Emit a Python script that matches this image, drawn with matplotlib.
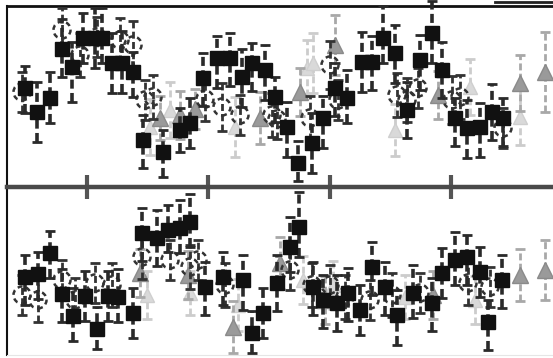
import matplotlib
matplotlib.use("Agg")
import matplotlib.pyplot as plt
import numpy as np
from matplotlib.lines import Line2D

# ---------------- data ----------------
# Top panel: black squares
top_sq_x = [25, 37, 50, 62, 72, 83, 95, 102, 112, 122, 133, 143, 163, 180, 190,
            203, 217, 230, 242, 252, 265, 275, 287, 298, 312, 323, 335, 347, 362, 372,
            383, 395, 407, 420, 432, 442, 455, 467, 480, 492, 503]
top_sq_y = [99, 75, 89, 138, 120, 149, 149, 149, 124, 124, 115, 47, 35, 57, 64,
            109, 129, 129, 110, 124, 117, 90, 60, 24, 44, 69, 99, 89, 125, 125,
            149, 134, 77, 127, 154, 117, 69, 59, 60, 75, 69]
top_sq_up = [22, 30, 26, 30, 25, 25, 30, 30, 30, 32, 20, 25, 22, 22, 25,
             25, 22, 25, 28, 20, 25, 20, 25, 22, 30, 22, 25, 28, 30, 26,
             32, 28, 28, 25, 32, 28, 20, 28, 24, 28, 20]
top_sq_dn = [25, 30, 25, 28, 35, 25, 30, 25, 30, 30, 25, 28, 25, 22, 25,
             28, 30, 28, 30, 28, 30, 25, 30, 18, 30, 30, 28, 25, 30, 28,
             25, 30, 28, 30, 30, 28, 28, 30, 30, 28, 28]

# Top panel: open (dashed) circles
top_ci_x = [22, 62, 80, 97, 120, 133, 145, 153, 205, 222, 240, 272, 277, 310,
            330, 338, 397, 407, 418, 452, 460, 503]
top_ci_y = [95, 157, 132, 150, 147, 142, 87, 90, 88, 80, 72, 72, 68, 69,
            122, 87, 92, 87, 99, 87, 90, 59]
top_ci_err = [20, 22, 22, 20, 22, 24, 20, 22, 22, 24, 20, 22, 20, 22,
              24, 20, 22, 22, 20, 24, 22, 20]

# Top panel: grey triangles
top_tr_x = [160, 180, 195, 260, 300, 335, 438, 520, 545]
top_tr_y = [69, 72, 78, 69, 95, 142, 92, 104, 115]
top_tr_err = [22, 24, 20, 26, 24, 30, 24, 28, 40]

# Top panel: light grey triangles
top_lt_x = [170, 150, 235, 307, 313, 395, 470, 520]
top_lt_y = [77, 60, 60, 119, 124, 57, 100, 70]
top_lt_err = [28, 28, 30, 28, 30, 26, 28, 28]

# Bottom panel: black squares
bot_sq_x = [25, 38, 50, 62, 73, 85, 97, 108, 118, 133, 142, 157, 168, 180, 190,
            205, 223, 243, 252, 263, 277, 290, 299, 313, 323, 337, 348, 360, 372,
            385, 397, 413, 432, 442, 455, 467, 480, 488, 502]
bot_sq_y = [78, 81, 102, 61, 39, 59, 26, 59, 58, 42, 122, 117, 125, 127, 133,
            68, 78, 75, 22, 42, 72, 108, 128, 68, 55, 52, 62, 45, 88,
            68, 40, 62, 52, 82, 95, 98, 83, 33, 75]
bot_sq_up = [22, 22, 22, 25, 28, 25, 22, 25, 28, 25, 25, 28, 25, 28, 28,
             25, 25, 25, 22, 25, 28, 30, 35, 25, 25, 28, 25, 25, 25,
             25, 25, 28, 25, 25, 28, 22, 25, 22, 25]
bot_sq_dn = [28, 25, 25, 28, 25, 25, 20, 25, 25, 25, 28, 28, 22, 25, 25,
             28, 28, 30, 20, 25, 28, 25, 30, 28, 28, 28, 28, 25, 28,
             28, 30, 25, 28, 25, 25, 28, 25, 28, 28]

# Bottom panel: open (dashed) circles
bot_ci_x = [22, 38, 62, 75, 95, 112, 142, 170, 190, 198, 225, 290, 312, 330,
            345, 370, 392, 420, 468, 490]
bot_ci_y = [60, 55, 75, 55, 72, 70, 98, 95, 88, 95, 70, 85, 70, 70,
            58, 55, 60, 62, 72, 68]
bot_ci_err = [20, 22, 20, 22, 20, 22, 22, 20, 22, 20, 22, 20, 22, 20,
              22, 20, 22, 20, 22, 20]

# Bottom panel: grey triangles
bot_tr_x = [140, 188, 233, 280, 325, 433, 520, 545]
bot_tr_y = [82, 80, 28, 92, 55, 60, 80, 85]
bot_tr_err = [24, 24, 26, 26, 24, 24, 26, 30]

# Bottom panel: light grey triangles
bot_lt_x = [147, 190, 238, 303, 333, 405, 475]
bot_lt_y = [60, 62, 50, 75, 70, 58, 55]
bot_lt_err = [24, 22, 26, 24, 24, 22, 24]

mid_ticks = [87, 208, 330, 451]

# ---------------- drawing ----------------
W, H = 553, 358
fig = plt.figure(figsize=(W / 100, H / 100), dpi=100)
fig.patch.set_facecolor("white")

x0, x1 = 7, 553
ytop, ymid, ybot = 6, 187, 355
ax1 = fig.add_axes([x0 / W, 1 - ymid / H, (x1 - x0) / W, (ymid - ytop) / H])
ax2 = fig.add_axes([x0 / W, 1 - ybot / H, (x1 - x0) / W, (ybot - ymid) / H])

ax1.set_xlim(0, x1 - x0)
ax2.set_xlim(0, x1 - x0)
ax1.set_ylim(0, ymid - ytop)
ax2.set_ylim(0, ybot - ymid)


def shift(xs):
    return np.asarray(xs, float) - x0


def ebar(ax, x, y, up, dn, marker, ms, mfc, mec, ecol, lw, z, alpha=1.0):
    eb = ax.errorbar(shift(x), y, yerr=[dn, up], fmt=marker, ms=ms, mfc=mfc,
                     mec=mec, ecolor=ecol, elinewidth=lw, capsize=3.5,
                     capthick=2, zorder=z, alpha=alpha, clip_on=False)
    for lc in eb[2]:
        lc.set_linestyle((0, (2.5, 1.2)))
    return eb


def circles(ax, x, y, err, z):
    ebar(ax, x, y, err, err, "none", 0, "none", "none", "#333333", 2, z)
    ax.scatter(shift(x), y, s=150, facecolors="none", edgecolors="#333333",
               linewidths=1.8, linestyles=(0, (2, 1.5)), zorder=z + 0.1,
               clip_on=False)


for ax, lt, tr, ci, sq in [
    (ax1, (top_lt_x, top_lt_y, top_lt_err), (top_tr_x, top_tr_y, top_tr_err),
     (top_ci_x, top_ci_y, top_ci_err),
     (top_sq_x, top_sq_y, top_sq_up, top_sq_dn)),
    (ax2, (bot_lt_x, bot_lt_y, bot_lt_err), (bot_tr_x, bot_tr_y, bot_tr_err),
     (bot_ci_x, bot_ci_y, bot_ci_err),
     (bot_sq_x, bot_sq_y, bot_sq_up, bot_sq_dn)),
]:
    ebar(ax, lt[0], lt[1], lt[2], lt[2], "^", 10, "#d9d9d9", "#cfcfcf",
         "#cccccc", 2, 2)
    ebar(ax, tr[0], tr[1], tr[2], tr[2], "^", 11, "#9a9a9a", "#8a8a8a",
         "#a8a8a8", 2, 3)
    circles(ax, ci[0], ci[1], ci[2], 4)
    ebar(ax, sq[0], sq[1], sq[2], sq[3], "s", 9.5, "#111111", "#111111",
         "#2a2a2a", 2.6, 5)

for ax in (ax1, ax2):
    ax.set_facecolor("none")
    ax.spines["right"].set_visible(False)
    ax.spines["left"].set_linewidth(1.5)
    ax.spines["left"].set_color("#111111")
    ax.set_yticks([])

ax1.spines["bottom"].set_visible(False)
ax1.spines["top"].set_linewidth(2)
ax1.spines["top"].set_color("#111111")
ax1.set_xticks([])

ax2.spines["top"].set_linewidth(3.2)
ax2.spines["top"].set_color("#4a4a4a")
ax2.spines["bottom"].set_linewidth(0.8)
ax2.spines["bottom"].set_color("#e6e6e6")
ax2.set_xticks(shift(mid_ticks))
ax2.set_xticklabels([])
ax2.tick_params(axis="x", bottom=False, top=True, direction="inout",
                length=17, width=3, color="#555555")

# clipped edge of a box at the top right
fig.add_artist(Line2D([495 / W, 1.0], [1 - 1.5 / H, 1 - 1.5 / H],
                      color="#222222", lw=2))

fig.savefig("out.png", dpi=100)
